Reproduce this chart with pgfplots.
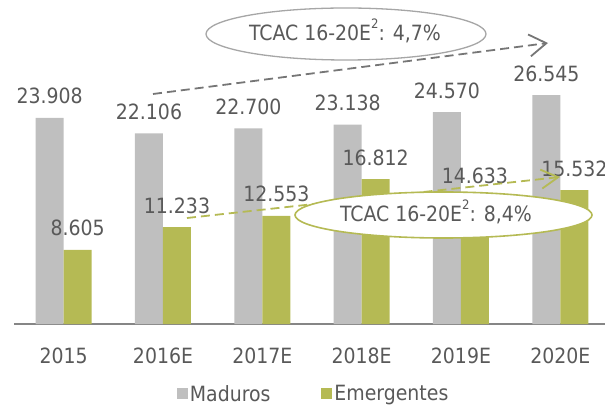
\documentclass[border=0pt]{standalone}
\usepackage{fontspec}
\setmainfont{DejaVu Sans Condensed}
\usepackage{pgfplots}
\pgfplotsset{compat=1.18}
\usetikzlibrary{arrows.meta}
\definecolor{barg}{RGB}{191,191,191}
\definecolor{barv}{RGB}{181,186,84}
\definecolor{txt}{RGB}{89,89,89}
\definecolor{axg}{RGB}{134,134,134}
\definecolor{ellg}{RGB}{166,166,166}
\definecolor{dashg}{RGB}{118,118,118}
\newcommand{\sq}{\raisebox{0.55em}{\fontsize{13}{15}\selectfont 2}}
\begin{document}
\begin{tikzpicture}[x=1pt,y=1pt,every node/.style={font=\fontsize{21}{25}\selectfont, text=txt}]
\path[use as bounding box] (0,0) rectangle (605,407);
\begin{axis}[
  at={(14pt,83pt)}, anchor=south west,
  scale only axis, width=591pt, height=319pt,
  xmin=-0.5, xmax=5.45, ymin=0, ymax=37000,
  clip=false,
  ybar=0pt, bar width=28pt,
  axis y line=none, axis x line*=bottom,
  x axis line style={-, draw=axg, line width=1.5pt},
  xtick={0,1,2,3,4,5},
  xticklabels={2015,2016E,2017E,2018E,2019E,2020E},
  major tick length=0pt,
  xticklabel style={anchor=base, yshift=-39pt, font=\fontsize{21}{25}\selectfont, text=txt},
  /pgf/number format/assume math mode=true,
  point meta=y,
  nodes near coords={\pgfmathprintnumber[fixed,1000 sep={.}]{\pgfplotspointmeta}},
  every node near coord/.append style={anchor=base, yshift=14pt, font=\fontsize{21}{25}\selectfont, text=txt},
  legend columns=2,
  legend style={at={(0.507,-0.219)}, anchor=center, draw=none, fill=none,
    font=\fontsize{21}{25}\selectfont, text=txt,
    /tikz/every even column/.append style={column sep=49pt}},
  legend image code/.code={\fill[#1,draw=none] (0pt,-5.5pt) rectangle (11pt,5.5pt);},
]
\addplot[fill=barg, draw=none] coordinates {(0,23908) (1,22106) (2,22700) (3,23138) (4,24570) (5,26545)};
\addplot[fill=barv, draw=none] coordinates {(0,8605) (1,11233) (2,12553) (3,16812) (4,14633) (5,15532)};
\legend{Maduros,Emergentes}
\end{axis}
% annotations
\draw[dashg, line width=1.8pt, dash pattern=on 9pt off 5pt, -{Straight Barb[length=17pt,width=22pt]}] (153,313) -- (548,364);
\draw[ellg, line width=1.3pt, fill=white] (346,373) ellipse [x radius=140, y radius=26];
\node[anchor=base] at (345,366.5) {TCAC 16-20E\sq: 4,7\%};
\draw[barv, line width=1.8pt, dash pattern=on 9pt off 5pt, -{Straight Barb[length=17pt,width=19pt]}] (187,189) -- (560,230);
\draw[barv, line width=1.6pt, fill=white] (443.5,192) ellipse [x radius=148.5, y radius=23];
\node[anchor=base] at (436,185.5) {TCAC 16-20E\sq: 8,4\%};
\end{tikzpicture}
\end{document}
